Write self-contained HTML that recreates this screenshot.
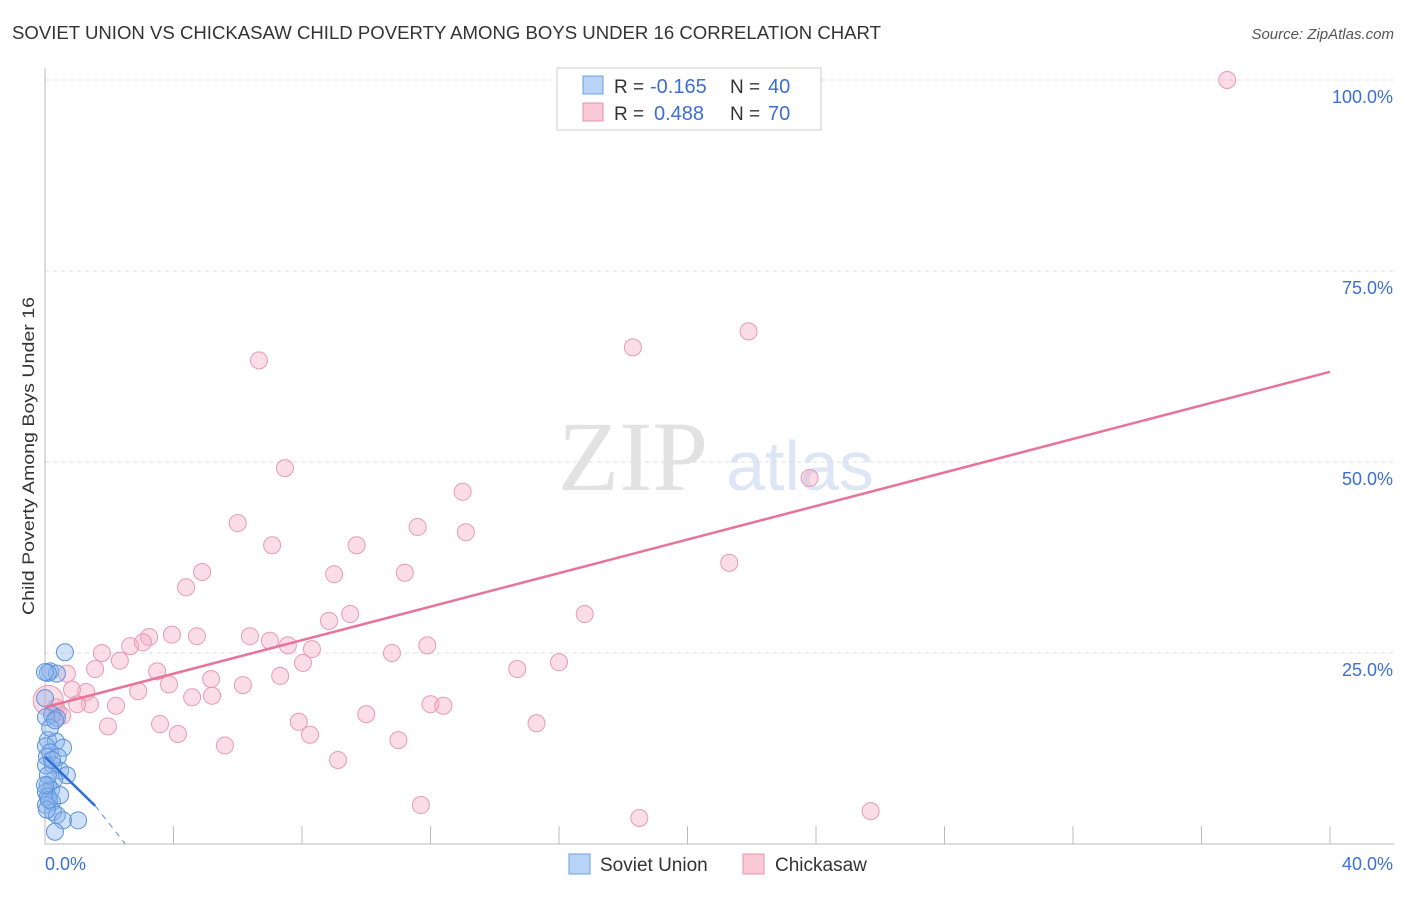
<!DOCTYPE html>
<html><head><meta charset="utf-8"><style>
body{margin:0;background:#fff;font-family:"Liberation Sans",sans-serif;}
svg text{font-family:"Liberation Sans",sans-serif;}
</style></head><body>
<svg id="chart" width="1406" height="892">
<text x="12" y="39" font-size="18" fill="#333" textLength="869" lengthAdjust="spacingAndGlyphs">SOVIET UNION VS CHICKASAW CHILD POVERTY AMONG BOYS UNDER 16 CORRELATION CHART</text>
<text x="1394" y="39" font-size="15" fill="#555" font-style="italic" text-anchor="end">Source: ZipAtlas.com</text>
<text x="633" y="490" font-size="100" fill="#e2e2e2" text-anchor="middle" style="font-family:'Liberation Serif',serif">ZIP</text>
<text x="800" y="490" font-size="70" fill="#dde6f5" text-anchor="middle">atlas</text>
<g id="grid"></g>
<g id="axes"></g>
<g id="pts"></g>
<g id="lines"></g>
<text transform="translate(34,456) rotate(-90)" font-size="17" fill="#333" text-anchor="middle" textLength="318" lengthAdjust="spacingAndGlyphs">Child Poverty Among Boys Under 16</text>
<g>
<rect x="557" y="68" width="264" height="62" fill="#fff" stroke="#ccc"/>
<rect x="583" y="76" width="20" height="18" fill="#b8d3f5" stroke="#6a9fe0"/>
<rect x="583" y="103" width="20" height="18" fill="#f9c9d8" stroke="#e893ad"/>
<text x="614" y="93" font-size="19" fill="#333">R =</text>
<text x="650" y="93" font-size="20" fill="#3b6fd4">-0.165</text>
<text x="730" y="93" font-size="19" fill="#333">N =</text>
<text x="768" y="93" font-size="20" fill="#3b6fd4">40</text>
<text x="614" y="120" font-size="19" fill="#333">R =</text>
<text x="654" y="120" font-size="20" fill="#3b6fd4">0.488</text>
<text x="730" y="120" font-size="19" fill="#333">N =</text>
<text x="768" y="120" font-size="20" fill="#3b6fd4">70</text>
</g>
<g>
<rect x="569" y="854" width="21" height="20" fill="#b8d3f5" stroke="#6a9fe0"/>
<text x="600" y="871" font-size="19" fill="#333">Soviet Union</text>
<rect x="743" y="854" width="21" height="20" fill="#f9c9d8" stroke="#e893ad"/>
<text x="775" y="871" font-size="19" fill="#333">Chickasaw</text>
</g>
</svg>
<script>
const yTicks=[25,50,75,100];
const yTickLabels=["25.0%","50.0%","75.0%","100.0%"];
const xTickLabels=["0.0%","40.0%"];
const pinkX=[36.8,21.9,18.3,6.66,23.8,7.47,13.0,6.0,11.6,13.1,9.7,7.07,21.3,4.89,9.0,11.2,4.39,16.8,9.5,8.84,3.24,3.95,4.73,6.38,7.0,7.56,8.31,2.65,3.05,1.77,11.9,2.33,10.8,16.0,8.03,3.49,14.7,1.56,0.68,5.17,7.32,3.86,6.16,2.9,1.28,0.84,5.2,4.58,2.21,1.4,1.0,0.34,0.1,12.0,12.4,10.0,15.3,7.9,3.58,1.96,4.14,8.25,11.0,5.6,9.12,11.7,18.5,25.7,0.4,0.53];
const pinkY=[100,67.1,65.0,63.3,47.9,49.2,46.1,42.0,41.5,40.8,39.1,39.1,36.8,35.6,35.3,35.5,33.6,30.1,30.1,29.2,27.1,27.4,27.2,27.2,26.6,26.0,25.5,25.9,26.4,25.0,26.0,24.0,25.0,23.8,23.7,22.6,22.9,22.9,22.3,21.6,22.0,20.9,20.8,20.0,19.9,20.2,19.4,19.2,18.1,18.3,18.3,17.9,18.8,18.3,18.1,17.0,15.8,16.0,15.7,15.4,14.4,14.3,13.6,12.9,11.0,5.1,3.4,4.3,17.3,16.8];
const blueX=[0.62,0.16,0.37,0.09,0.0,0.22,0.37,0.03,0.09,0.34,0.56,0.03,0.16,0.06,0.4,0.25,0.03,0.47,0.68,0.28,0.09,0.19,0.03,0.09,0.22,0.03,0.25,0.37,0.06,1.03,0.56,0.31,0.09,0.22,0.16,0.0,0.31,0.12,0.47,0];
const blueY=[25.1,22.6,22.3,22.4,22.5,16.9,16.5,16.6,13.6,13.4,12.6,12.8,12.0,11.4,11.4,10.3,10.3,9.6,9.0,8.4,7.7,7.1,6.8,6.2,5.5,5.1,4.2,3.8,4.5,3.1,3.1,1.6,9.0,11.0,15.2,19.1,16.2,5.8,6.4,7.7];
const pinkTrend=[[0,17.9],[40,61.8]];
const blueTrend=[[0,11.4],[1.56,5.0],[2.5,0]];
const NS="http://www.w3.org/2000/svg";
const X=v=>45+v/40*1285, Y=v=>844-v/100*764;
function mk(t,a,p){const e=document.createElementNS(NS,t);for(const k in a)e.setAttribute(k,a[k]);document.getElementById(p).appendChild(e);return e;}
yTicks.forEach((t,i)=>{
 let g=mk('line',{x1:45,x2:1394,y1:Y(t),y2:Y(t),stroke:'#ddd','stroke-dasharray':'4,4'},'grid');
 
 
 let l=mk('text',{x:1393,y:Y(t)+23,'font-size':18,fill:'#3b6fd4','text-anchor':'end'},'axes');
 l.textContent=yTickLabels[i];
 
 
});
let ax=mk('line',{x1:45,x2:45,y1:68,y2:844,stroke:'#bbb'},'axes');


let bx=mk('line',{x1:45,x2:1394,y1:844,y2:844,stroke:'#bbb'},'axes');


for(let i=1;i<=10;i++){let t=mk('line',{x1:X(i*4),x2:X(i*4),y1:826,y2:844,stroke:'#bbb'},'axes');
 
 }
[[0,45,'start'],[40,1393,'end']].forEach((d,i)=>{let t=mk('text',{x:d[1],y:870,'font-size':18,fill:'#3b6fd4','text-anchor':d[2]},'axes');
 t.textContent=xTickLabels[i];
 
 });
pinkX.forEach((x,i)=>{let c=mk('circle',{cx:X(x),cy:Y(pinkY[i]),r:(i==52?15:8.5),fill:'rgba(246,170,196,0.4)',stroke:'#e89ab3','stroke-width':1},'pts');
 
 });
blueX.forEach((x,i)=>{let c=mk('circle',{cx:X(x),cy:Y(blueY[i]),r:8.5,fill:'rgba(140,180,235,0.4)',stroke:'#5b93dc','stroke-width':1},'pts');
 
 });
let pl=mk('line',{x1:X(pinkTrend[0][0]),y1:Y(pinkTrend[0][1]),x2:X(pinkTrend[1][0]),y2:Y(pinkTrend[1][1]),stroke:'#e8739a','stroke-width':2.5},'lines');


let bl=mk('line',{x1:X(blueTrend[0][0]),y1:Y(blueTrend[0][1]),x2:X(blueTrend[1][0]),y2:Y(blueTrend[1][1]),stroke:'#2f6fd6','stroke-width':2.5},'lines');


let bd=mk('line',{x1:X(blueTrend[1][0]),y1:Y(blueTrend[1][1]),x2:X(blueTrend[2][0]),y2:Y(blueTrend[2][1]),stroke:'#7a9fd9','stroke-width':1.2,'stroke-dasharray':'6,5'},'lines');


</script>
</body></html>
